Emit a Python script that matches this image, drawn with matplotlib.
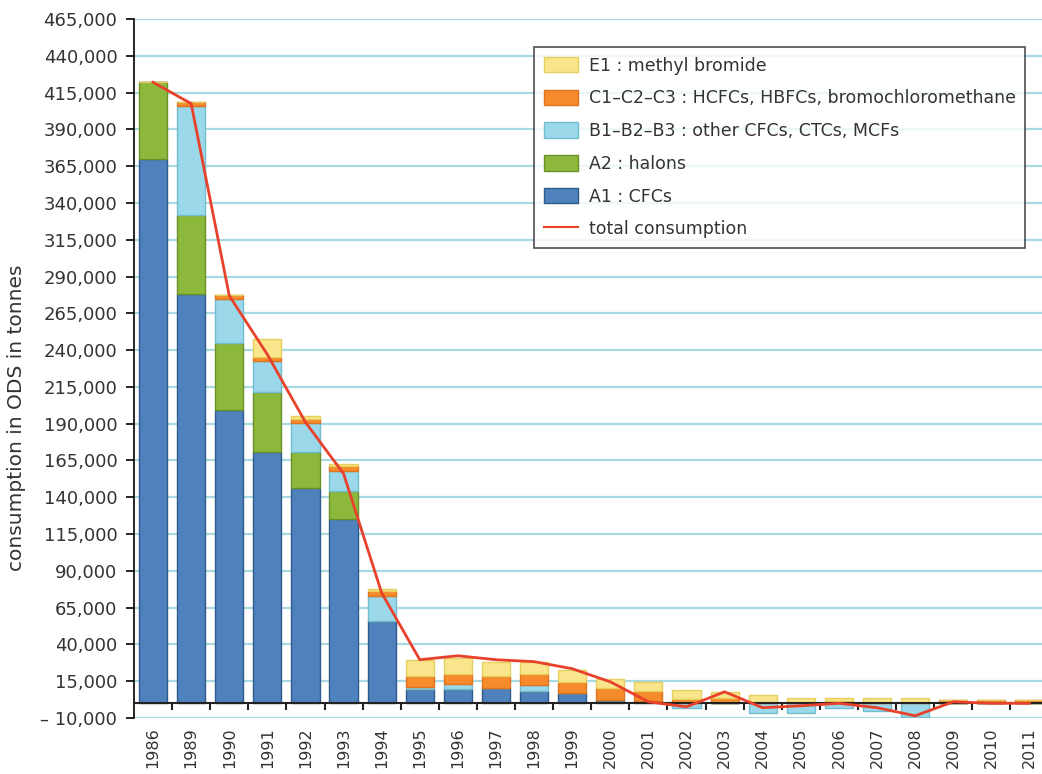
import numpy as np
import matplotlib.pyplot as plt
from matplotlib.patches import Patch
from matplotlib.lines import Line2D
from matplotlib.ticker import FuncFormatter

plt.rcParams['font.family'] = ['DejaVu Sans']

years = ['1986', '1989', '1990', '1991', '1992', '1993', '1994', '1995', '1996', '1997',
         '1998', '1999', '2000', '2001', '2002', '2003', '2004', '2005', '2006', '2007',
         '2008', '2009', '2010', '2011']

# tonnes of ODS per group
a1_cfcs = [370000, 278000, 199000, 170500, 146000, 125000, 56000, 10000, 10000, 10500,
           8500, 7000, 2500, 1700, 0, 0, 0, 0, 0, 0, 0, 0, 0, 0]
a2_halons = [52000, 54000, 45500, 41000, 25000, 19000, 0, 0, 0, 0,
             0, 0, 0, 0, 0, 0, 0, 0, 0, 0, 0, 0, 0, 0]
b_other = [0, 74000, 30000, 21000, 19700, 13600, 17000, 1000, 3400, 0,
           4100, 0, 0, 0, -3000, 0, -6500, -6500, -3000, -5000, -9200, 0, 0, 0]
c_hcfcs = [0, 2700, 2700, 2700, 2700, 3400, 3400, 7500, 6800, 8200,
           7500, 7500, 8200, 6800, 2700, 3400, 800, 1000, 1700, 1200, 1200, 2000, 2000, 2000]
e1_mebr = [0, 0, 0, 12300, 2000, 1400, 1400, 10900, 10900, 9500,
           8200, 8200, 6100, 6100, 6100, 4100, 5000, 2700, 2000, 2500, 2500, 0, 0, 0]
total = [422000, 407500, 277000, 237000, 191000, 156000, 75000, 29600, 32300, 29600,
         28300, 23500, 14600, 1000, -2400, 7800, -3000, -1700, 0, -3000, -8500, 1000, 0, 0]

series = [
    (a1_cfcs, '#4f81bd', '#2f5a8c', 'A1 : CFCs'),
    (a2_halons, '#8cb93c', '#6a9128', 'A2 : halons'),
    (b_other, '#9ad8ea', '#72bcd0', 'B1\u2013B2\u2013B3 : other CFCs, CTCs, MCFs'),
    (c_hcfcs, '#f68b2c', '#e07420', 'C1\u2013C2\u2013C3 : HCFCs, HBFCs, bromochloromethane'),
    (e1_mebr, '#f9e68c', '#e6cf5c', 'E1 : methyl bromide'),
]

x = np.arange(len(years))

fig = plt.figure(figsize=(10.42, 7.74), dpi=100)
ax = fig.add_axes([134 / 1042, 56 / 774, 908 / 1042, 699 / 774])

pos_bottom = np.zeros(len(years))
neg_bottom = np.zeros(len(years))
for vals, col, edge, lab in series:
    v = np.array(vals, dtype=float)
    bottom = np.where(v >= 0, pos_bottom, neg_bottom)
    ax.bar(x, v, 0.74, bottom=bottom, color=col, edgecolor=edge, linewidth=1, zorder=3)
    pos_bottom += np.where(v > 0, v, 0)
    neg_bottom += np.where(v < 0, v, 0)

ax.plot(x, total, color='#e8412c', lw=2, zorder=5)

# zero line with little marks between the bars
ax.axhline(0, color='#222222', lw=1.5, zorder=4)
ax.vlines(x[:-1] + 0.5, -4500, 0, color='#222222', lw=1.5, zorder=4)

ax.set_xlim(-0.5, 23.33)
ax.set_ylim(-10000, 465000)
ax.set_yticks(np.arange(-10000, 465001, 25000))
ax.yaxis.set_major_formatter(FuncFormatter(lambda v, p: f'{v:,.0f}'.replace('-', '\u2013 ')))
ax.set_xticks(x)
ax.set_xticklabels(years, rotation=90)
ax.tick_params(axis='x', length=0, pad=7, labelsize=11.5, labelcolor='#333333')
ax.tick_params(axis='y', direction='out', length=6, width=1.2, labelsize=13,
               labelcolor='#333333', pad=6)

ax.yaxis.grid(True, color='#a9d9e3', lw=1.6, zorder=0)
ax.set_axisbelow(True)
for s in ['top', 'right', 'bottom']:
    ax.spines[s].set_visible(False)
ax.spines['left'].set_linewidth(1.2)

ax.set_ylabel('consumption in ODS in tonnes', fontsize=14.5, color='#333333')
ax.yaxis.set_label_coords(-0.119, 0.43)

handles = [Patch(facecolor=c, edgecolor=e) for _, c, e, _ in series][::-1]
labels = [l for _, _, _, l in series][::-1]
handles.append(Line2D([], [], color='#e8412c', lw=1.5))
labels.append('total consumption')
leg = ax.legend(handles, labels, loc='upper right', bbox_to_anchor=(0.9815, 0.96),
                fontsize=12.5, frameon=True, fancybox=False, edgecolor='#222222',
                handlelength=2.0, handleheight=1.0, labelspacing=0.85, borderpad=0.55,
                handletextpad=0.6, borderaxespad=0)
leg.get_frame().set_linewidth(1.2)
for t in leg.get_texts():
    t.set_color('#333333')

plt.savefig('out.png', dpi=100)
